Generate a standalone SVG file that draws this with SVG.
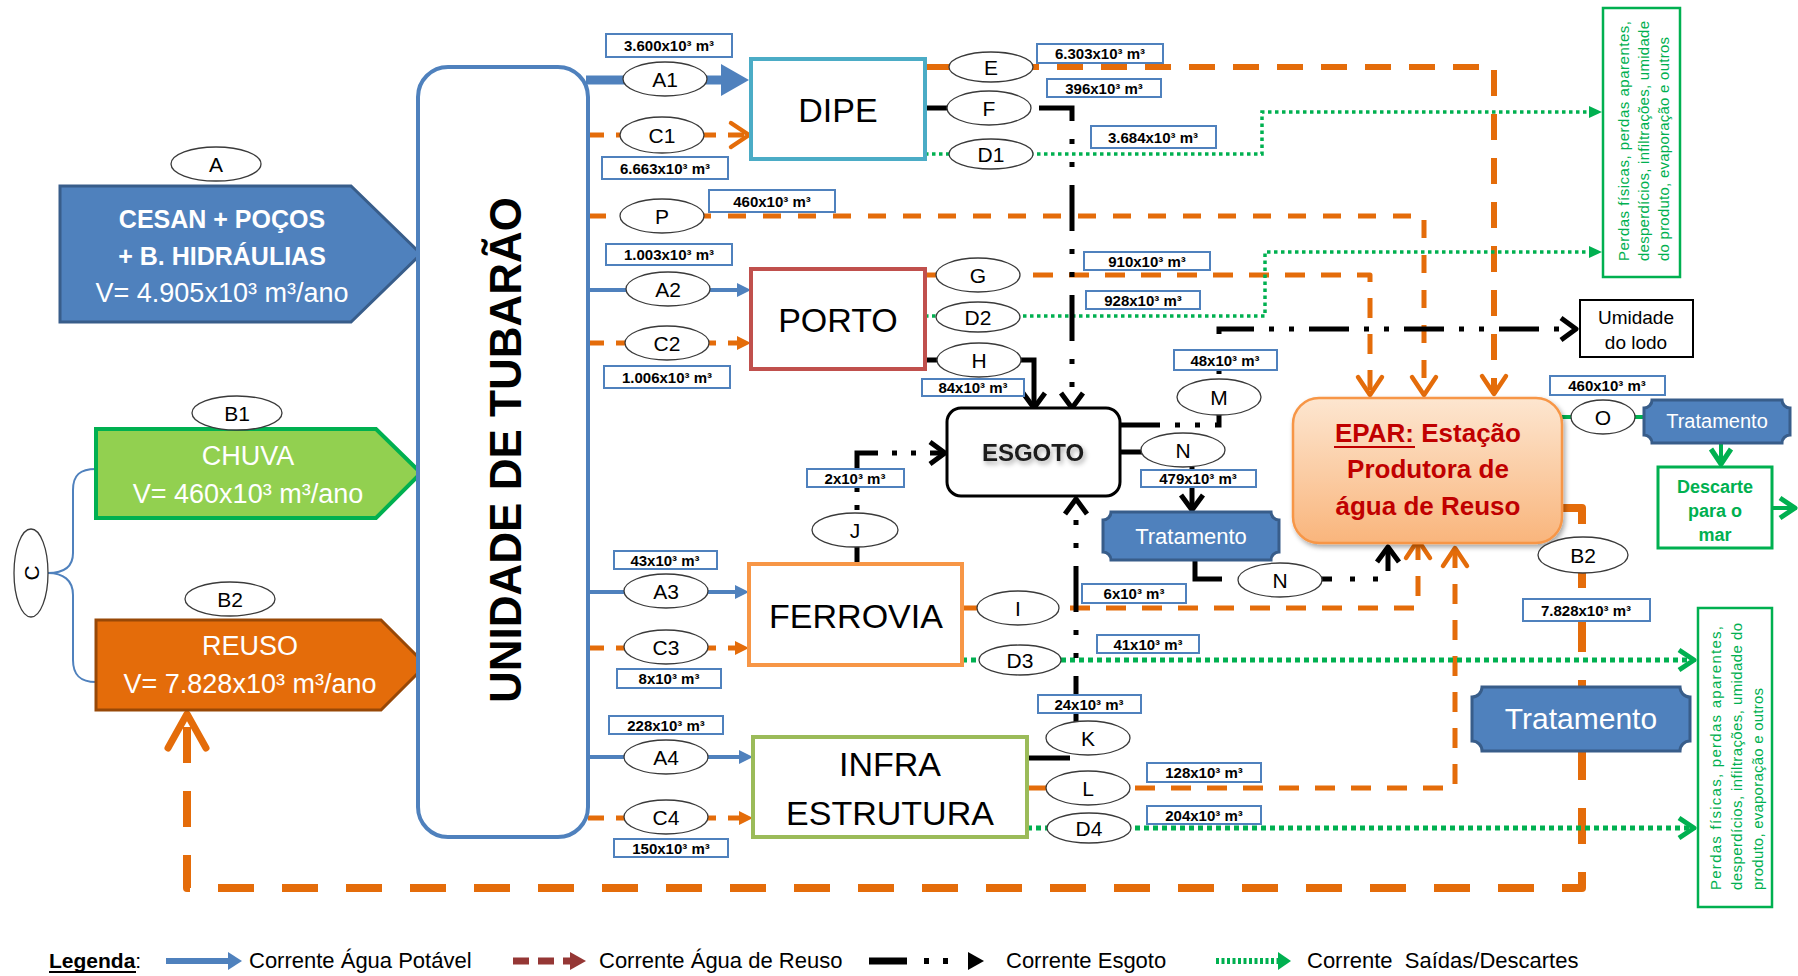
<svg xmlns="http://www.w3.org/2000/svg" width="1798" height="976" viewBox="0 0 1798 976">
<defs>
<style>
text{font-family:"Liberation Sans",Arial,sans-serif;}
.el{fill:#fff;stroke:#3a3a3a;stroke-width:1.3}
.elt{font-size:21px;text-anchor:middle;fill:#000}
.lbr{fill:#fff;stroke:#4F81BD;stroke-width:2}
.lbt{font-size:15px;font-weight:bold;text-anchor:middle;fill:#000}
.nb{fill:#fff;stroke-width:4}
.nt{font-size:34px;text-anchor:middle;fill:#000}
.bl{stroke:#4F81BD;fill:none}
.or{stroke:#E46C0A;fill:none;stroke-linejoin:round}
.gr{stroke:#00B050;fill:none}
.bk{stroke:#000;fill:none;stroke-width:5}
.dd{stroke-dasharray:46 18 5 18 5 18}
.trat{fill:#4F81BD;stroke:#385D8A;stroke-width:3}
.tt{fill:#fff;text-anchor:middle}
.pd{font-size:15px;fill:#00B050}
.lg{font-size:22px;fill:#000}
.pt{fill:#fff;text-anchor:middle}
</style>
<linearGradient id="gEpar" x1="0" y1="0" x2="0" y2="1">
<stop offset="0" stop-color="#FDE6D0"/>
<stop offset="1" stop-color="#F9B57C"/>
</linearGradient>
<filter id="sh" x="-10%" y="-10%" width="130%" height="140%">
<feDropShadow dx="2" dy="3" stdDeviation="2.5" flood-color="#000" flood-opacity="0.35"/>
</filter>
<marker id="mBlBig" markerUnits="userSpaceOnUse" viewBox="-10 -18 32 36" markerWidth="32" markerHeight="36" refX="0" refY="0" orient="auto"><path d="M-8,-16 L20,0 L-8,16 Z" fill="#4F81BD"/></marker>
<marker id="mBl" markerUnits="userSpaceOnUse" viewBox="-6 -9 18 18" markerWidth="18" markerHeight="18" refX="0" refY="0" orient="auto"><path d="M-4,-7 L10,0 L-4,7 Z" fill="#4F81BD"/></marker>
<marker id="mOrT" markerUnits="userSpaceOnUse" viewBox="-6 -9 18 18" markerWidth="18" markerHeight="18" refX="0" refY="0" orient="auto"><path d="M-4,-7 L10,0 L-4,7 Z" fill="#E46C0A"/></marker>
<marker id="mGrT" markerUnits="userSpaceOnUse" viewBox="-6 -9 18 18" markerWidth="18" markerHeight="18" refX="0" refY="0" orient="auto"><path d="M-4,-6 L9,0 L-4,6 Z" fill="#00B050"/></marker>
<marker id="mOrC" markerUnits="userSpaceOnUse" viewBox="-24 -18 30 36" markerWidth="30" markerHeight="36" refX="0" refY="0" orient="auto"><path d="M-18,-12 L0,0 L-18,12" fill="none" stroke="#E46C0A" stroke-width="4.5" stroke-linecap="round" stroke-linejoin="round"/></marker>
<marker id="mBkC" markerUnits="userSpaceOnUse" viewBox="-22 -16 28 32" markerWidth="28" markerHeight="32" refX="0" refY="0" orient="auto"><path d="M-15,-11 L0,0 L-15,11" fill="none" stroke="#000" stroke-width="5" stroke-linejoin="round"/></marker>
<marker id="mGrC" markerUnits="userSpaceOnUse" viewBox="-22 -16 28 32" markerWidth="28" markerHeight="32" refX="0" refY="0" orient="auto"><path d="M-15,-10 L0,0 L-15,10" fill="none" stroke="#00B050" stroke-width="5" stroke-linejoin="round"/></marker>
<marker id="mOrBig" markerUnits="userSpaceOnUse" viewBox="-42 -26 48 52" markerWidth="48" markerHeight="52" refX="0" refY="0" orient="auto"><path d="M-34,-19 L0,0 L-34,19" fill="none" stroke="#E46C0A" stroke-width="7" stroke-linecap="round" stroke-linejoin="round"/></marker>
</defs>
<rect width="1798" height="976" fill="#fff"/>

<g id="connectors">
<path class="bl" stroke-width="2" d="M96,469 C80,469 73,475 73,490 V553 C73,568 63,573 48,573 C63,573 73,580 73,595 V660 C73,675 80,682 96,682"/>
<path class="bl" stroke-width="9" d="M586,80 H729" marker-end="url(#mBlBig)"/>
<path class="bl" stroke-width="4" d="M588,290 H741" marker-end="url(#mBl)"/>
<path class="bl" stroke-width="4" d="M588,592 H739" marker-end="url(#mBl)"/>
<path class="bl" stroke-width="4" d="M588,757 H743" marker-end="url(#mBl)"/>
<path class="or" stroke-width="5" stroke-dasharray="16 12" d="M588,135 H749" marker-end="url(#mOrC)"/>
<path class="or" stroke-width="5" stroke-dasharray="16 12" d="M588,343 H741" marker-end="url(#mOrT)"/>
<path class="or" stroke-width="5" stroke-dasharray="16 12" d="M588,648 H739" marker-end="url(#mOrT)"/>
<path class="or" stroke-width="5" stroke-dasharray="16 12" d="M588,818 H743" marker-end="url(#mOrT)"/>
<path class="or" stroke-width="6" stroke-dasharray="26 18" d="M925,67 H1494 V394" marker-end="url(#mOrC)"/>
<path class="or" stroke-width="5" stroke-dasharray="18 17" d="M588,216 H1424 V395" marker-end="url(#mOrC)"/>
<path class="or" stroke-width="5" stroke-dasharray="20 16" d="M925,275 H1370 V395" marker-end="url(#mOrC)"/>
<path class="or" stroke-width="5" stroke-dasharray="20 16" d="M962,608 H1418 V540" marker-end="url(#mOrC)"/>
<path class="or" stroke-width="5" stroke-dasharray="20 16" d="M1027,788 H1455 V548" marker-end="url(#mOrC)"/>
<path class="or" stroke-width="8" stroke-dasharray="36 28" d="M1562,508 H1582 V888 H187 V714" marker-end="url(#mOrBig)"/>
<path class="gr" stroke-width="3.5" stroke-dasharray="3.5 3.5" d="M925,154 H1262 V112 H1593" marker-end="url(#mGrT)"/>
<path class="gr" stroke-width="3.5" stroke-dasharray="3.5 3.5" d="M925,316 H1265 V252 H1593" marker-end="url(#mGrT)"/>
<path class="gr" stroke-width="5" stroke-dasharray="5 4" d="M962,660 H1694" marker-end="url(#mGrC)"/>
<path class="gr" stroke-width="5" stroke-dasharray="5 4" d="M1027,828 H1694" marker-end="url(#mGrC)"/>
<path class="gr" stroke-width="4" d="M1562,417 H1644"/>
<path class="gr" stroke-width="4" d="M1721,443 V464" marker-end="url(#mGrC)"/>
<path class="gr" stroke-width="4" d="M1772,508 H1795" marker-end="url(#mGrC)"/>
<path class="bk" d="M925,108 H950"/>
<path class="bk dd" d="M1039,108 H1072 V408" marker-end="url(#mBkC)"/>
<path class="bk" d="M925,360 H1034 V408" marker-end="url(#mBkC)"/>
<path class="bk" stroke-dasharray="18 36 5 13 5 15 40 14 5 14 5 14 20" d="M857,564 V453 H945" marker-end="url(#mBkC)"/>
<path class="bk" stroke-dasharray="40 15 5 15 5 15" d="M1120,425 H1219 V329 H1576" marker-end="url(#mBkC)"/>
<path class="bk" d="M1120,452 H1145"/>
<path class="bk" d="M1192,467 V510" marker-end="url(#mBkC)"/>
<path class="bk dd" d="M1195,560 V579 H1388 V547" marker-end="url(#mBkC)"/>
<path class="bk" d="M1027,758 H1070"/>
<path class="bk dd" d="M1076,722 V499" marker-end="url(#mBkC)"/>
</g>

<g id="node-A">
<polygon points="60,186 351,186 421,254 351,322 60,322" fill="#4F81BD" stroke="#385D8A" stroke-width="3"/>
<text class="pt" x="222" y="228" font-size="25" font-weight="bold">CESAN + POÇOS</text>
<text class="pt" x="222" y="265" font-size="25" font-weight="bold">+ B. HIDRÁULIAS</text>
<text class="pt" x="222" y="302" font-size="27">V= 4.905x10³ m³/ano</text>
<ellipse class="el" cx="216" cy="164" rx="45" ry="17"/><text class="elt" x="216" y="172">A</text>
</g>
<g id="node-B1">
<polygon points="96,429 376,429 421,473 376,518 96,518" fill="#92D050" stroke="#00B050" stroke-width="4"/>
<text class="pt" x="248" y="465" font-size="27">CHUVA</text>
<text class="pt" x="248" y="503" font-size="27">V= 460x10³ m³/ano</text>
<ellipse class="el" cx="237" cy="413" rx="45" ry="17"/><text class="elt" x="237" y="421">B1</text>
</g>
<g id="node-B2">
<polygon points="96,620 381,620 426,665 381,710 96,710" fill="#E46C0A" stroke="#984807" stroke-width="3"/>
<text class="pt" x="250" y="655" font-size="27">REUSO</text>
<text class="pt" x="250" y="693" font-size="27">V= 7.828x10³ m³/ano</text>
<ellipse class="el" cx="230" cy="599" rx="45" ry="17"/><text class="elt" x="230" y="607">B2</text>
</g>
<g id="node-C">
<ellipse class="el" cx="31" cy="573" rx="17" ry="44"/>
<text class="elt" transform="translate(39,573) rotate(-90)">C</text>
</g>
<g id="node-unidade">
<rect x="418" y="67" width="170" height="770" rx="30" fill="#fff" stroke="#4F81BD" stroke-width="4"/>
<text transform="translate(521,450) rotate(-90)" font-size="44" font-weight="bold" text-anchor="middle">UNIDADE DE TUBARÃO</text>
</g>

<g id="node-dipe"><rect class="nb" x="751" y="59" width="174" height="100" stroke="#4BACC6"/><text class="nt" x="838" y="122">DIPE</text></g>
<g id="node-porto"><rect class="nb" x="751" y="269" width="174" height="100" stroke="#C0504D"/><text class="nt" x="838" y="332">PORTO</text></g>
<g id="node-ferrovia"><rect class="nb" x="749" y="564" width="213" height="101" stroke="#F79646" stroke-width="3.5"/><text class="nt" x="856" y="628">FERROVIA</text></g>
<g id="node-infra"><rect class="nb" x="753" y="737" width="274" height="100" stroke="#9BBB59" stroke-width="3.5"/><text class="nt" x="890" y="776">INFRA</text><text class="nt" x="890" y="825">ESTRUTURA</text></g>
<g id="node-esgoto"><rect x="947" y="408" width="173" height="88" rx="14" fill="#fff" stroke="#000" stroke-width="3"/><text x="1033" y="461" font-size="24" font-weight="bold" text-anchor="middle" fill="#1a1a1a" filter="url(#sh)">ESGOTO</text></g>
<g id="node-epar"><rect x="1293" y="398" width="269" height="145" rx="26" fill="url(#gEpar)" stroke="#F79646" stroke-width="2.5" filter="url(#sh)"/>
<text x="1428" y="442" font-size="26" font-weight="bold" text-anchor="middle" fill="#C00000">EPAR: Estação</text>
<line x1="1334" y1="447" x2="1415" y2="447" stroke="#C00000" stroke-width="2"/>
<text x="1428" y="478" font-size="26" font-weight="bold" text-anchor="middle" fill="#C00000">Produtora de</text>
<text x="1428" y="515" font-size="26" font-weight="bold" text-anchor="middle" fill="#C00000">água de Reuso</text></g>
<g id="node-trat1"><path class="trat" d="M1111,512 H1271 A8,8 0 0 0 1279,520 V552 A8,8 0 0 0 1271,560 H1111 A8,8 0 0 0 1103,552 V520 A8,8 0 0 0 1111,512 Z"/><text class="tt" x="1191" y="544" font-size="22">Tratamento</text></g>
<g id="node-trat2"><path class="trat" d="M1652,400 H1782 A8,8 0 0 0 1790,408 V435 A8,8 0 0 0 1782,443 H1652 A8,8 0 0 0 1644,435 V408 A8,8 0 0 0 1652,400 Z"/><text class="tt" x="1717" y="428" font-size="20">Tratamento</text></g>
<g id="node-trat3"><path class="trat" d="M1482,687 H1680 A10,10 0 0 0 1690,697 V741 A10,10 0 0 0 1680,751 H1482 A10,10 0 0 0 1472,741 V697 A10,10 0 0 0 1482,687 Z"/><text class="tt" x="1581" y="729" font-size="30">Tratamento</text></g>
<g id="node-umidade"><rect x="1580" y="300" width="113" height="57" fill="#fff" stroke="#000" stroke-width="2"/><text x="1636" y="324" font-size="19" text-anchor="middle">Umidade</text><text x="1636" y="349" font-size="19" text-anchor="middle">do lodo</text></g>
<g id="node-descarte"><rect x="1658" y="467" width="114" height="81" fill="#fff" stroke="#00B050" stroke-width="3"/><text x="1715" y="493" font-size="18" font-weight="bold" text-anchor="middle" fill="#00B050">Descarte</text><text x="1715" y="517" font-size="18" font-weight="bold" text-anchor="middle" fill="#00B050">para o</text><text x="1715" y="541" font-size="18" font-weight="bold" text-anchor="middle" fill="#00B050">mar</text></g>
<g id="node-perdas1"><rect x="1603" y="8" width="77" height="269" fill="#fff" stroke="#00B050" stroke-width="2.5"/>
<text class="pd" transform="translate(1629,261) rotate(-90)" textLength="240" lengthAdjust="spacing">Perdas físicas, perdas aparentes,</text>
<text class="pd" transform="translate(1649,261) rotate(-90)" textLength="240" lengthAdjust="spacing">desperdícios, infiltrações, umidade</text>
<text class="pd" transform="translate(1669,261) rotate(-90)" textLength="224" lengthAdjust="spacing">do produto, evaporação e outros</text></g>
<g id="node-perdas2"><rect x="1698" y="608" width="74" height="299" fill="#fff" stroke="#00B050" stroke-width="2.5"/>
<text class="pd" transform="translate(1721,890) rotate(-90)" textLength="264" lengthAdjust="spacing">Perdas físicas, perdas aparentes,</text>
<text class="pd" transform="translate(1742,890) rotate(-90)" textLength="267" lengthAdjust="spacing">desperdícios, infiltrações, umidade do</text>
<text class="pd" transform="translate(1763,890) rotate(-90)" textLength="202" lengthAdjust="spacing">produto, evaporação e outros</text></g>

<g id="ellipses">
<g id="e-A1"><ellipse class="el" cx="665" cy="79" rx="42" ry="17"/><text class="elt" x="665" y="87">A1</text></g>
<g id="e-C1"><ellipse class="el" cx="662" cy="135" rx="42" ry="18"/><text class="elt" x="662" y="143">C1</text></g>
<g id="e-P"><ellipse class="el" cx="662" cy="216" rx="42" ry="17"/><text class="elt" x="662" y="224">P</text></g>
<g id="e-A2"><ellipse class="el" cx="668" cy="289" rx="42" ry="17"/><text class="elt" x="668" y="297">A2</text></g>
<g id="e-C2"><ellipse class="el" cx="667" cy="343" rx="42" ry="17"/><text class="elt" x="667" y="351">C2</text></g>
<g id="e-E"><ellipse class="el" cx="991" cy="67" rx="42" ry="15"/><text class="elt" x="991" y="75">E</text></g>
<g id="e-F"><ellipse class="el" cx="989" cy="108" rx="42" ry="17"/><text class="elt" x="989" y="116">F</text></g>
<g id="e-D1"><ellipse class="el" cx="991" cy="154" rx="42" ry="15"/><text class="elt" x="991" y="162">D1</text></g>
<g id="e-G"><ellipse class="el" cx="978" cy="275" rx="42" ry="17"/><text class="elt" x="978" y="283">G</text></g>
<g id="e-D2"><ellipse class="el" cx="978" cy="317" rx="42" ry="15"/><text class="elt" x="978" y="325">D2</text></g>
<g id="e-H"><ellipse class="el" cx="979" cy="360" rx="42" ry="17"/><text class="elt" x="979" y="368">H</text></g>
<g id="e-M"><ellipse class="el" cx="1219" cy="397" rx="42" ry="18"/><text class="elt" x="1219" y="405">M</text></g>
<g id="e-N1"><ellipse class="el" cx="1183" cy="450" rx="42" ry="17"/><text class="elt" x="1183" y="458">N</text></g>
<g id="e-N2"><ellipse class="el" cx="1280" cy="580" rx="42" ry="17"/><text class="elt" x="1280" y="588">N</text></g>
<g id="e-J"><ellipse class="el" cx="855" cy="530" rx="43" ry="17"/><text class="elt" x="855" y="538">J</text></g>
<g id="e-A3"><ellipse class="el" cx="666" cy="591" rx="42" ry="17"/><text class="elt" x="666" y="599">A3</text></g>
<g id="e-C3"><ellipse class="el" cx="666" cy="647" rx="42" ry="17"/><text class="elt" x="666" y="655">C3</text></g>
<g id="e-A4"><ellipse class="el" cx="666" cy="757" rx="42" ry="17"/><text class="elt" x="666" y="765">A4</text></g>
<g id="e-C4"><ellipse class="el" cx="666" cy="817" rx="42" ry="17"/><text class="elt" x="666" y="825">C4</text></g>
<g id="e-I"><ellipse class="el" cx="1018" cy="608" rx="41" ry="17"/><text class="elt" x="1018" y="616">I</text></g>
<g id="e-D3"><ellipse class="el" cx="1020" cy="660" rx="41" ry="15"/><text class="elt" x="1020" y="668">D3</text></g>
<g id="e-K"><ellipse class="el" cx="1088" cy="738" rx="42" ry="17"/><text class="elt" x="1088" y="746">K</text></g>
<g id="e-L"><ellipse class="el" cx="1088" cy="788" rx="42" ry="17"/><text class="elt" x="1088" y="796">L</text></g>
<g id="e-D4"><ellipse class="el" cx="1089" cy="828" rx="42" ry="15"/><text class="elt" x="1089" y="836">D4</text></g>
<g id="e-O"><ellipse class="el" cx="1603" cy="417" rx="32" ry="17"/><text class="elt" x="1603" y="425">O</text></g>
<g id="e-B2r"><ellipse class="el" cx="1583" cy="555" rx="45" ry="18"/><text class="elt" x="1583" y="563">B2</text></g>
</g>

<g id="labels">
<rect class="lbr" x="606" y="34" width="126" height="23"/><text class="lbt" x="669" y="51">3.600x10³ m³</text>
<rect class="lbr" x="602" y="157" width="126" height="22"/><text class="lbt" x="665" y="174">6.663x10³ m³</text>
<rect class="lbr" x="709" y="190" width="126" height="22"/><text class="lbt" x="772" y="207">460x10³ m³</text>
<rect class="lbr" x="606" y="244" width="126" height="21"/><text class="lbt" x="669" y="260">1.003x10³ m³</text>
<rect class="lbr" x="604" y="366" width="126" height="22"/><text class="lbt" x="667" y="383">1.006x10³ m³</text>
<rect class="lbr" x="1037" y="44" width="126" height="19"/><text class="lbt" x="1100" y="59">6.303x10³ m³</text>
<rect class="lbr" x="1047" y="79" width="114" height="18"/><text class="lbt" x="1104" y="94">396x10³ m³</text>
<rect class="lbr" x="1091" y="126" width="125" height="22"/><text class="lbt" x="1153" y="143">3.684x10³ m³</text>
<rect class="lbr" x="1084" y="252" width="126" height="18"/><text class="lbt" x="1147" y="267">910x10³ m³</text>
<rect class="lbr" x="1086" y="291" width="114" height="18"/><text class="lbt" x="1143" y="306">928x10³ m³</text>
<rect class="lbr" x="922" y="379" width="102" height="17"/><text class="lbt" x="973" y="393">84x10³ m³</text>
<rect class="lbr" x="1174" y="350" width="103" height="20"/><text class="lbt" x="1225" y="366">48x10³ m³</text>
<rect class="lbr" x="1141" y="470" width="115" height="17"/><text class="lbt" x="1198" y="484">479x10³ m³</text>
<rect class="lbr" x="807" y="469" width="97" height="18"/><text class="lbt" x="855" y="484">2x10³ m³</text>
<rect class="lbr" x="614" y="551" width="103" height="18"/><text class="lbt" x="665" y="566">43x10³ m³</text>
<rect class="lbr" x="617" y="669" width="104" height="19"/><text class="lbt" x="669" y="684">8x10³ m³</text>
<rect class="lbr" x="609" y="716" width="114" height="18"/><text class="lbt" x="666" y="731">228x10³ m³</text>
<rect class="lbr" x="614" y="839" width="114" height="18"/><text class="lbt" x="671" y="854">150x10³ m³</text>
<rect class="lbr" x="1082" y="584" width="104" height="19"/><text class="lbt" x="1134" y="599">6x10³ m³</text>
<rect class="lbr" x="1097" y="635" width="102" height="18"/><text class="lbt" x="1148" y="650">41x10³ m³</text>
<rect class="lbr" x="1038" y="695" width="103" height="18"/><text class="lbt" x="1089" y="710">24x10³ m³</text>
<rect class="lbr" x="1147" y="763" width="114" height="19"/><text class="lbt" x="1204" y="778">128x10³ m³</text>
<rect class="lbr" x="1147" y="806" width="114" height="18"/><text class="lbt" x="1204" y="821">204x10³ m³</text>
<rect class="lbr" x="1550" y="376" width="115" height="19"/><text class="lbt" x="1607" y="391">460x10³ m³</text>
<rect class="lbr" x="1523" y="599" width="127" height="22"/><text class="lbt" x="1586" y="616">7.828x10³ m³</text>
</g>

<g id="legend">
<text x="49" y="968" font-size="21" font-weight="bold">Legenda<tspan font-weight="normal">:</tspan></text>
<line x1="49" y1="972" x2="136" y2="972" stroke="#000" stroke-width="2"/>
<line x1="166" y1="961" x2="230" y2="961" stroke="#4F81BD" stroke-width="6"/>
<polygon points="228,952 242,961 228,970" fill="#4F81BD"/>
<text class="lg" x="249" y="968">Corrente Água Potável</text>
<line x1="513" y1="961" x2="572" y2="961" stroke="#953735" stroke-width="7" stroke-dasharray="16 9"/>
<polygon points="570,952 586,961 570,970" fill="#953735"/>
<text class="lg" x="599" y="968">Corrente Água de Reuso</text>
<line x1="869" y1="961" x2="907" y2="961" stroke="#000" stroke-width="7"/>
<rect x="924" y="958" width="5" height="6" fill="#000"/>
<rect x="943" y="958" width="5" height="6" fill="#000"/>
<polygon points="968,952 984,961 968,970" fill="#000"/>
<text class="lg" x="1006" y="968">Corrente Esgoto</text>
<line x1="1216" y1="961" x2="1279" y2="961" stroke="#00B050" stroke-width="6" stroke-dasharray="3 2.5"/>
<polygon points="1278,952 1291,961 1278,970" fill="#00B050"/>
<text class="lg" x="1307" y="968" style="white-space:pre">Corrente  Saídas/Descartes</text>
</g>
</svg>
